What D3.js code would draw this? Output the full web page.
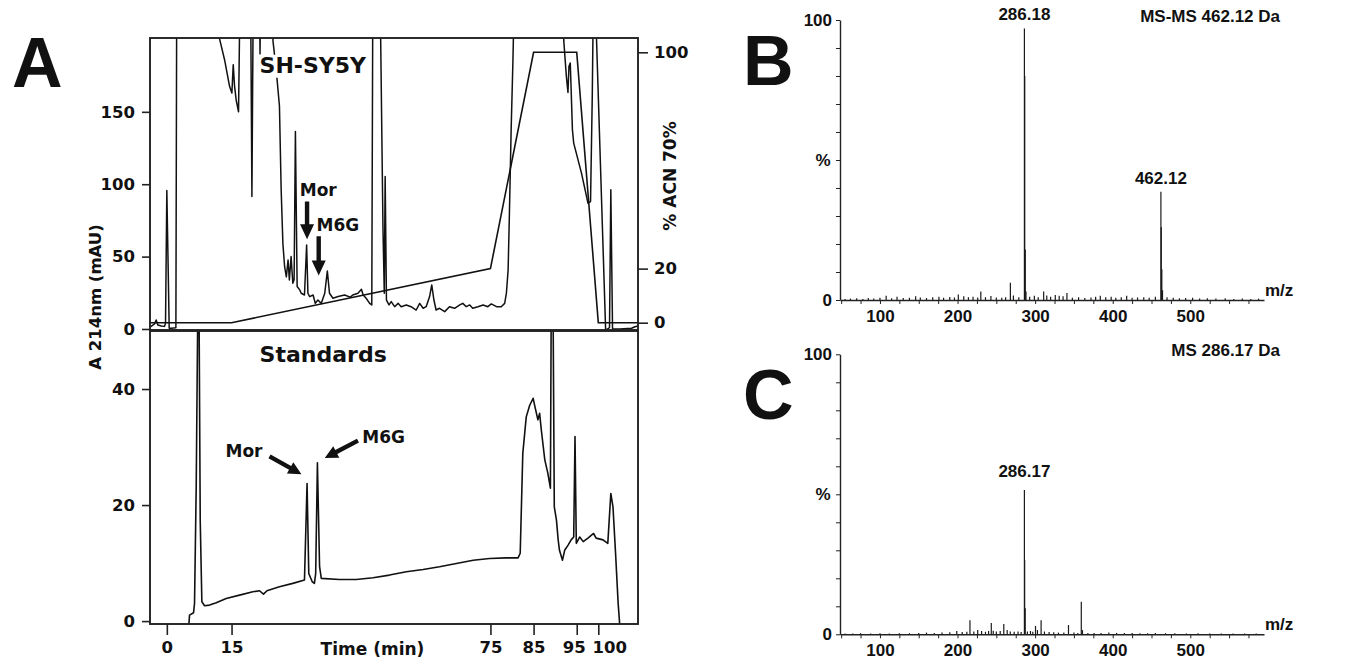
<!DOCTYPE html>
<html>
<head>
<meta charset="utf-8">
<script src="https://cdn.jsdelivr.net/npm/d3@7"></script>
<style>
body { margin: 0; background: #fff; }
</style>
</head>
<body>
<script>
// chromatogram, SH-SY5Y extract (time in min, absorbance in mAU; >201 is off scale)
var topTime = [-3.8, -2.85, -2.47, -2.08, -1.3, -0.53, -0.3, 0.0, 0.55, 1.0, 2.1, 2.3,
    12.1, 12.25, 13.38, 14.54, 15.08, 15.39, 15.7, 16.08, 16.62, 17.0, 19.4, 19.72, 20.05,
    21.45, 21.6, 21.75, 24.45, 24.6, 25.35, 26.1, 26.5, 26.9, 27.3, 27.7, 28.1, 28.4, 28.8,
    29.2, 29.5, 29.8, 30.2, 30.8, 31.15, 31.9, 32.4, 32.7, 33.1, 33.9, 34.4, 35.0, 35.8,
    36.6, 37.2, 37.7, 38.5, 39.7, 41.2, 42.5, 43.1, 44.3, 45.1, 45.5, 46.2, 47.0, 47.5,
    47.75, 49.4, 50.1, 50.4, 50.6, 50.9, 51.5, 52.0, 52.8, 53.6, 54.3, 55.5, 56.6, 57.8,
    58.6, 59.4, 60.1, 60.9, 61.4, 61.9, 62.4, 63.2, 64.4, 65.5, 66.7, 67.9, 68.6, 69.4,
    70.2, 70.9, 72.1, 73.3, 74.4, 75.2, 76.4, 77.5, 78.3, 78.7, 79.1, 79.4, 79.8, 80.2,
    80.6, 91.8, 92.0, 92.6, 92.97, 93.2, 93.5, 93.7, 94.0, 94.3, 96.1, 97.6, 98.2, 98.6,
    98.9, 99.4, 99.6, 101.7, 102.3, 102.6, 102.9, 103.3, 105, 107.7, 108.5, 109.2];
var topAbs = [1.5, 3.5, 6.2, 2.8, 2.1, 1.8, 3.9, 95.7, 0.5, 0.5, 0.9, 240,
    240, 200, 186, 167.6, 163, 182.6, 167.6, 158, 150, 240, 240, 91.5, 240,
    240, 190, 240, 240, 199, 179, 154, 96, 59, 43, 36, 47.7, 33.9, 50,
    31.6, 34, 136.5, 29.3, 27, 24.7, 23.5, 58, 24.7, 22.4, 23.5, 17.7, 20, 17.7,
    24.7, 40, 24.7, 21.2, 22.4, 23.5, 22, 23.5, 24.7, 27.4, 23.5, 21.2, 17.7, 16.6,
    240, 240, 68.5, 24.7, 105.3, 20, 16.6, 18.9, 15.4, 17.7, 15.4, 16.6, 15.4, 13.1,
    17.7, 14.3, 15.4, 22.4, 30.4, 20, 13.1, 14.3, 12, 15.4, 14.3, 16.6, 17.7, 15.4,
    16.6, 14.3, 15.4, 16.6, 15.4, 17.3, 15.4, 15.4, 17.7, 24.7, 40.8, 80, 137.6, 183.7,
    240, 240, 199, 174.5, 163.4, 181.4, 183.7, 165.8, 137.6, 128.4, 107.7, 86.9, 88, 160.7,
    240, 240, 199, -0.7, 0.2, 1, 96.1, 0, 0, 0.5, 1.5, 2];

// ACN gradient (% ACN 70%)
var acnTime = [-3.9, 15, 75, 85, 95, 100, 109.2];
var acnPct = [0, 0, 20, 100, 100, 0, 0];

// chromatogram, standards
var stdTime = [5.11, 5.26, 6.19, 6.42, 6.81, 7.2, 7.45, 7.74, 8.12, 8.74, 9.9, 11.45, 13.76,
    16.85, 19.94, 21.49, 22.4, 23.2, 26.1, 29.2, 31.9, 32.5, 32.9, 33.7, 34.2, 34.5, 34.9,
    35.4, 35.8, 40.0, 43.9, 47.8, 51.6, 55.5, 59.4, 63.2, 67.1, 71.0, 74.8, 78.7, 81.4,
    81.9, 82.5, 83.3, 84.1, 84.9, 85.3, 86.0, 86.4, 86.8, 87.6, 88.3, 88.9, 89.1, 89.5,
    89.8, 90.3, 90.7, 91.0, 91.7, 92.2, 93.0, 93.7, 94.3, 94.6, 94.9, 95.7, 96.5, 97.6,
    98.9, 99.5, 101.1, 102.2, 102.9, 103.4, 104.0, 104.6, 105.0];
var stdAbs = [-0.6, 1.03, 1.44, 3.05, 23.2, 56, 56, 17.4, 3.33, 2.64, 2.76, 3.16, 3.91,
    4.48, 5.06, 5.23, 4.66, 5.23, 5.92, 6.5, 7.07, 23.7, 8.2, 6.78, 6.5, 8.2, 27.3,
    9.37, 7.36, 7.18, 7.18, 7.47, 7.93, 8.5, 8.9, 9.37, 9.94, 10.5, 10.8, 10.9, 10.9,
    11.7, 28.9, 35.2, 37.2, 38.4, 37.0, 34.7, 35.8, 32.9, 27.8, 25.5, 22.9, 56, 56,
    19.7, 17.4, 14.0, 12.2, 10.5, 12.2, 13.1, 14.0, 14.5, 31.8, 13.4, 14.5, 13.7, 14.3,
    15.1, 14.3, 14.0, 13.4, 22.0, 19.7, 11.7, 3.05, -1];

var timeTicks = [0, 15, 75, 85, 95, 100];
var topAbsTicks = [0, 50, 100, 150];
var stdAbsTicks = [0, 20, 40];
var acnTicks = [0, 20, 100];

// MS-MS of 462.12 Da (m/z, relative intensity %)
var msmsMz = [55, 62, 70, 78, 85, 92, 100, 108, 115, 122, 130, 138, 146, 152, 160, 168, 176,
    182, 190, 196, 201, 208, 214, 220, 226, 230, 236, 243, 250, 257, 262, 268.1, 272, 279,
    286.18, 286.6, 287.3, 288.2, 293, 299, 304, 311, 315, 320, 326, 331, 336, 341, 348, 356,
    364, 372, 378, 384, 391, 398, 404, 411, 418, 425, 432, 440, 447, 455, 462.12, 462.6,
    463.3, 464.2, 470, 478, 486, 494, 503, 512, 522, 533, 545, 556, 567, 578, 588];
var msmsInt = [0.4, 0.5, 0.6, 0.4, 0.7, 0.5, 0.8, 1.5, 0.6, 1.2, 0.7, 0.8, 1.3, 0.9, 0.7, 1.0, 1.2,
    0.8, 1.1, 0.9, 2.0, 1.3, 1.0, 1.2, 0.9, 3.0, 1.0, 1.4, 0.9, 0.8, 1.0, 6.2, 1.6, 1.0,
    97, 80, 18, 3, 1.2, 1.5, 1.0, 3.0, 1.6, 1.2, 1.8, 1.5, 1.3, 2.5, 0.8, 1.0,
    0.7, 0.9, 1.2, 1.5, 1.0, 1.2, 0.8, 1.0, 1.5, 0.8, 0.9, 1.0, 0.8, 1.2, 38.7, 26,
    11, 3.5, 1.0, 0.8, 0.6, 0.7, 0.8, 0.5, 0.6, 0.5, 0.6, 0.4, 0.5, 0.4, 0.5];

// MS of 286.17 Da
var msMz = [55, 65, 75, 88, 100, 112, 125, 138, 150, 160, 170, 180, 190, 199, 206, 212, 216,
    221, 226, 231, 236, 240, 243.5, 246, 250, 255, 259.6, 264, 268, 273, 278, 282, 286.17,
    286.5, 287.2, 290, 294, 297, 300.5, 303, 307.7, 312, 318, 324, 330, 337, 343, 350, 355,
    359.5, 361, 368, 376, 385, 395, 405, 415, 425, 435, 445, 455, 468, 480, 495, 510, 525,
    540, 555, 570, 585];
var msInt = [0.3, 0.3, 0.4, 0.3, 0.4, 0.3, 0.4, 0.4, 0.5, 0.6, 0.5, 0.6, 0.7, 1.2, 0.8, 0.9, 5.0,
    1.0, 1.5, 1.2, 0.9, 1.2, 4.0, 1.3, 1.0, 1.2, 3.7, 1.5, 1.0, 0.9, 1.0, 0.8, 51.5,
    26.5, 9.3, 1.0, 1.2, 0.9, 3.0, 1.5, 5.0, 1.0, 0.8, 0.7, 0.6, 0.6, 3.3, 0.6, 0.5,
    11.6, 1.5, 0.5, 0.5, 0.5, 0.6, 0.5, 0.5, 0.5, 0.4, 0.4, 0.5, 0.4, 0.4, 0.3, 0.4, 0.3,
    0.3, 0.3, 0.3, 0.3];
var mzTicks = d3.range(50, 595, 25);
var pctTicks = d3.range(0, 101, 10);

var chromFont = "'DejaVu Sans', sans-serif";
var msFont = "'Liberation Sans', Arial, sans-serif";
var ink = "#111";

var svg = d3.select("body").append("svg")
    .attr("width", 1348)
    .attr("height", 663);

var defs = svg.append("defs");
defs.append("clipPath").attr("id", "clipTop").append("rect")
    .attr("x", 150).attr("y", 38).attr("width", 488).attr("height", 292);
defs.append("clipPath").attr("id", "clipStd").append("rect")
    .attr("x", 150).attr("y", 331).attr("width", 488).attr("height", 293);

// ---------- panel A ----------
var x = d3.scaleLinear().domain([-3.9, 109.2]).range([150, 638]);
var yTop = d3.scaleLinear().domain([-0.7, 201]).range([330, 38]);
var yAcn = d3.scaleLinear().domain([0, 100]).range([322.7, 52.3]);
var yStd = d3.scaleLinear().domain([-0.5, 50]).range([624, 331]);

function styleAxis(g, font, size) {
    g.selectAll("text")
        .attr("font-family", font)
        .attr("font-size", size)
        .attr("font-weight", "bold")
        .attr("fill", ink);
    g.selectAll("line").attr("stroke", "#222").attr("stroke-width", 1.6);
    g.select(".domain").remove();
}

var lineTop = d3.line().x(function(d) { return x(d[0]); }).y(function(d) { return yTop(d[1]); });
var lineAcn = d3.line().x(function(d) { return x(d[0]); }).y(function(d) { return yAcn(d[1]); });
var lineStd = d3.line().x(function(d) { return x(d[0]); }).y(function(d) { return yStd(d[1]); });

var topG = svg.append("g").attr("clip-path", "url(#clipTop)");
topG.append("path")
    .datum(d3.zip(acnTime, acnPct))
    .attr("d", lineAcn)
    .attr("fill", "none").attr("stroke", ink).attr("stroke-width", 1.6);
topG.append("path")
    .datum(d3.zip(topTime, topAbs))
    .attr("d", lineTop)
    .attr("fill", "none").attr("stroke", ink).attr("stroke-width", 1.5)
    .attr("stroke-linejoin", "round");

var stdG = svg.append("g").attr("clip-path", "url(#clipStd)");
stdG.append("path")
    .datum(d3.zip(stdTime, stdAbs))
    .attr("d", lineStd)
    .attr("fill", "none").attr("stroke", ink).attr("stroke-width", 1.6)
    .attr("stroke-linejoin", "round");

// frames
[[38, 330], [331, 624]].forEach(function(r) {
    svg.append("rect")
        .attr("x", 150).attr("y", r[0])
        .attr("width", 488).attr("height", r[1] - r[0])
        .attr("fill", "none").attr("stroke", "#222").attr("stroke-width", 1.9);
});

svg.append("g")
    .attr("transform", "translate(150,0)")
    .call(d3.axisLeft(yTop).tickValues(topAbsTicks).tickSize(8).tickPadding(7))
    .call(styleAxis, chromFont, 16.5);
svg.append("g")
    .attr("transform", "translate(150,0)")
    .call(d3.axisLeft(yStd).tickValues(stdAbsTicks).tickSize(8).tickPadding(7))
    .call(styleAxis, chromFont, 16.5);
svg.append("g")
    .attr("transform", "translate(638,0)")
    .call(d3.axisRight(yAcn).tickValues(acnTicks).tickSize(10).tickPadding(6))
    .call(styleAxis, chromFont, 16.5);
var xAxisG = svg.append("g")
    .attr("transform", "translate(0,624)")
    .call(d3.axisBottom(x).tickValues(timeTicks).tickSize(11).tickPadding(6))
    .call(styleAxis, chromFont, 16.5);
// the two last labels are nudged apart, as in the original figure
xAxisG.selectAll(".tick text")
    .attr("dx", function(d) { return d === 100 ? 11 : (d === 95 ? -3 : 0); });

function label(g, txt, px, py, size, font, anchor) {
    return g.append("text")
        .attr("x", px).attr("y", py)
        .attr("font-family", font).attr("font-size", size)
        .attr("font-weight", "bold").attr("fill", ink)
        .attr("text-anchor", anchor || "start")
        .text(txt);
}

label(svg, "Time (min)", 372.5, 655, 17, chromFont, "middle");
label(svg, "A 214nm (mAU)", 0, 0, 16.5, chromFont, "middle")
    .attr("transform", "translate(101,297) rotate(-90)");
label(svg, "% ACN 70%", 0, 0, 17, chromFont, "middle")
    .attr("transform", "translate(676,176) rotate(-90)");

// sample label with white backing
var sh = label(svg, "SH-SY5Y", x(21.5), yTop(177), 22, chromFont);
var bb = sh.node().getBBox();
svg.insert("rect", function() { return sh.node(); })
    .attr("x", bb.x - 2).attr("y", bb.y + 2)
    .attr("width", bb.width + 4).attr("height", bb.height - 2)
    .attr("fill", "#fff");

label(svg, "Mor", x(30.8), yTop(92), 17, chromFont);
label(svg, "M6G", x(34.7), yTop(67.8), 17, chromFont);
label(svg, "Standards", x(21.5), yStd(44.7), 22, chromFont);
label(svg, "Mor", x(13.6), yStd(28.3), 17, chromFont);
label(svg, "M6G", x(45.3), yStd(30.7), 17, chromFont);

function arrow(x1, y1, x2, y2, hl, hw, sw) {
    var dx = x2 - x1, dy = y2 - y1, len = Math.sqrt(dx * dx + dy * dy);
    var ux = dx / len, uy = dy / len, px = -uy, py = ux;
    var bx = x2 - ux * hl, by = y2 - uy * hl;
    var pts = [[x1 + px * sw, y1 + py * sw], [bx + px * sw, by + py * sw], [bx + px * hw, by + py * hw],
        [x2, y2], [bx - px * hw, by - py * hw], [bx - px * sw, by - py * sw], [x1 - px * sw, y1 - py * sw]];
    svg.append("path").attr("d", "M" + pts.join("L") + "Z").attr("fill", ink);
}
arrow(x(32.5), yTop(88), x(32.5), yTop(62), 15, 7, 2.2);
arrow(x(35.2), yTop(64), x(35.2), yTop(37), 15, 7, 2.2);
arrow(x(23.8), yStd(28.4), x(31.2), yStd(25.3), 13, 6.5, 2.2);
arrow(x(44.3), yStd(31.1), x(36.6), yStd(28.1), 13, 6.5, 2.2);

label(svg, "A", 12, 87, 70, msFont);

// ---------- panels B and C ----------
var mz = d3.scaleLinear().domain([48.5, 595]).range([840, 1264]);

function spectrum(top, mzs, ints, title, peakLabel, letter) {
    var y = d3.scaleLinear().domain([0, 100]).range([top + 280, top]);
    var g = svg.append("g");

    g.selectAll("line.peak")
        .data(d3.zip(mzs, ints))
        .enter().append("line")
        .attr("class", "peak")
        .attr("x1", function(d) { return mz(d[0]); })
        .attr("x2", function(d) { return mz(d[0]); })
        .attr("y1", y(0))
        .attr("y2", function(d) { return y(d[1]); })
        .attr("stroke", "#1a1a1a").attr("stroke-width", 1.2);

    var ax = g.append("g")
        .attr("transform", "translate(0," + y(0) + ")")
        .call(d3.axisBottom(mz).tickValues(mzTicks).tickSize(4).tickSizeOuter(0).tickPadding(6)
            .tickFormat(function(d) { return d % 100 === 0 ? d : ""; }));
    ax.selectAll("text").attr("font-family", msFont).attr("font-size", 17)
        .attr("font-weight", "bold").attr("fill", ink);
    ax.selectAll("line").attr("stroke", "#222");
    ax.select(".domain").attr("stroke", "#222").attr("stroke-width", 1.4);

    var ay = g.append("g")
        .attr("transform", "translate(840,0)")
        .call(d3.axisLeft(y).tickValues(pctTicks).tickSize(4).tickSizeOuter(0).tickPadding(4)
            .tickFormat(function(d) { return d === 0 || d === 100 ? d : ""; }));
    ay.selectAll("text").attr("font-family", msFont).attr("font-size", 17)
        .attr("font-weight", "bold").attr("fill", ink);
    ay.selectAll("line").attr("stroke", "#222");
    ay.select(".domain").attr("stroke", "#222").attr("stroke-width", 1.4);

    label(g, "%", 823, y(50) + 6, 17, msFont, "middle");
    label(g, "m/z", 1265, y(0) - 4, 17, msFont);
    label(g, title, 1280, top + 2, 17, msFont, "end");
    peakLabel.forEach(function(p) {
        label(g, p[0], mz(p[1]), y(p[2]) - 8, 17, msFont, "middle");
    });
    label(svg, letter, 743, top + 65, 70, msFont);
}

spectrum(20, msmsMz, msmsInt, "MS-MS 462.12 Da",
    [["286.18", 286.18, 97], ["462.12", 462.12, 38.7]], "B");
spectrum(354.3, msMz, msInt, "MS 286.17 Da",
    [["286.17", 286.17, 53.5]], "C");
</script>
</body>
</html>
